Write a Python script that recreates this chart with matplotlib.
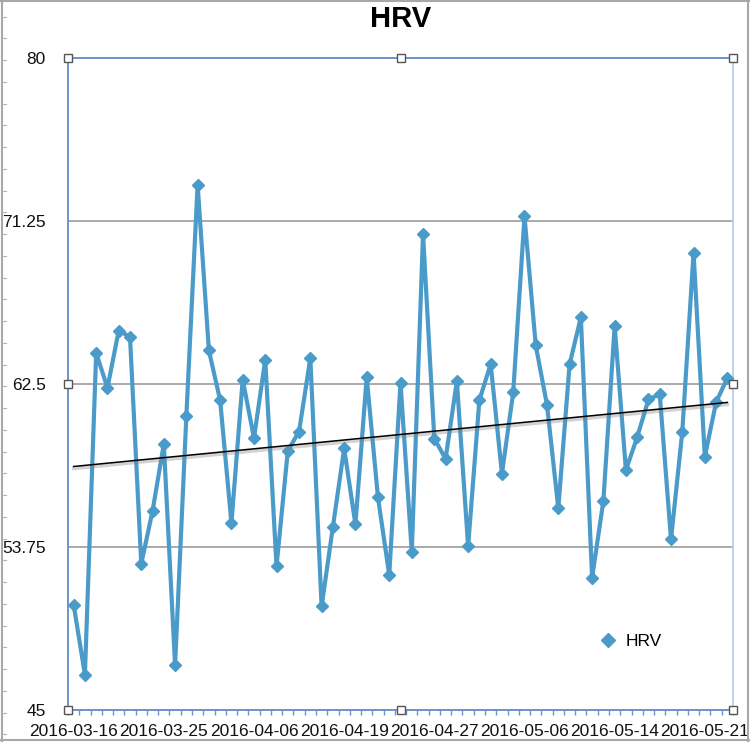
import numpy as np
import matplotlib
matplotlib.use("Agg")
import matplotlib.pyplot as plt
from matplotlib.lines import Line2D
import matplotlib.patheffects as pe

plt.rcParams["font.family"] = ["Liberation Sans", "DejaVu Sans"]

# ---------------------------------------------------------------------------
# Data
# ---------------------------------------------------------------------------
HRV = [
    50.65, 46.90, 64.17, 62.29, 65.37, 65.03, 52.85, 55.68, 59.27, 47.40,
    60.77, 73.20, 64.30, 61.62, 55.03, 62.74, 59.59, 63.80, 52.72, 58.91,
    59.95, 63.89, 50.56, 54.82, 59.04, 54.97, 62.86, 56.42, 52.25, 62.57,
    53.49, 70.54, 59.57, 58.48, 62.65, 53.79, 61.64, 63.57, 57.69, 62.05,
    71.51, 64.57, 61.37, 55.83, 63.55, 66.08, 52.10, 56.23, 65.62, 57.88,
    59.65, 61.67, 61.96, 54.16, 59.93, 69.54, 58.59, 61.52, 62.82,
]
DATE_LABELS = [
    "2016-03-16", "2016-03-25", "2016-04-06", "2016-04-19",
    "2016-04-27", "2016-05-06", "2016-05-14", "2016-05-21",
]
Y_TICKS = [45, 53.75, 62.5, 71.25, 80]
Y_TICK_LABELS = ["45", "53.75", "62.5", "71.25", "80"]

LINE_COLOR = "#4a9bc9"
AXIS_BLUE = "#7093cc"
GRID_GREY = "#9c9c9c"

x = np.arange(len(HRV))
label_step = 8

fig = plt.figure(figsize=(7.5, 7.42), dpi=100)
fig.set_facecolor("white")
ax = fig.add_axes([68 / 750, 1 - 710 / 742, 665 / 750, 652 / 742])

ax.set_xlim(-0.5, len(HRV) - 0.5)
ax.set_ylim(45, 80)

# gridlines
ax.set_yticks(Y_TICKS)
ax.set_yticklabels(Y_TICK_LABELS)
ax.yaxis.grid(True, color=GRID_GREY, lw=1.2)
ax.set_axisbelow(True)
ax.tick_params(axis="y", length=0, pad=16, labelsize=12.5, labelcolor="#111111")

# category axis
ax.set_xticks(x[::label_step])
ax.set_xticklabels(DATE_LABELS)
ax.set_xticks(np.arange(-0.5, len(HRV)), minor=True)
ax.tick_params(axis="x", which="major", length=0, pad=10, labelsize=12.5,
               labelcolor="#111111")
ax.tick_params(axis="x", which="minor", length=3.5, width=1, color=AXIS_BLUE,
               direction="out")

for side in ("left", "top", "bottom"):
    ax.spines[side].set_color(AXIS_BLUE)
    ax.spines[side].set_linewidth(1.4)
ax.spines["right"].set_color("#b3caf0")
ax.spines["right"].set_linewidth(1.2)

# series
ax.plot(x, HRV, color=LINE_COLOR, lw=3, marker="D", markersize=6,
        markerfacecolor=LINE_COLOR, markeredgecolor=LINE_COLOR, zorder=4)

# linear trendline
slope, intercept = np.polyfit(x, HRV, 1)
ax.plot([x[0], x[-1]], [intercept, intercept + slope * x[-1]], color="black",
        lw=1.1, zorder=5,
        path_effects=[pe.SimpleLineShadow(offset=(0, -1.5), shadow_color="gray",
                                          alpha=0.35, linewidth=2.5),
                      pe.Normal()])

# legend
proxy = Line2D([], [], color=LINE_COLOR, marker="D", markersize=7,
               linestyle="none")
ax.legend(handles=[proxy], labels=["HRV"], frameon=False, fontsize=12.5,
          loc="center left", bbox_to_anchor=((599 - 68) / 665, (710 - 641) / 652),
          borderpad=0, borderaxespad=0, handlelength=1, handletextpad=0.55)

# selection handles around the plot area
hx = [0, 0.5, 1, 0, 1, 0, 0.5, 1]
hy = [1, 1, 1, 0.5, 0.5, 0, 0, 0]
ax.plot(hx, hy, "s", transform=ax.transAxes, markersize=6,
        markerfacecolor="white", markeredgecolor="#555555", markeredgewidth=1,
        clip_on=False, zorder=10, linestyle="none")

# title
fig.text(401 / 750, 1 - 19 / 742, "HRV", ha="center", va="center",
         fontsize=21, fontweight="bold", color="black")

# window frame around the screenshot
fx = lambda px_: px_ / 750
fy = lambda py_: 1 - py_ / 742
frame = dict(color="#a8a8a8", lw=1.5, transform=fig.transFigure)
fig.add_artist(Line2D([fx(2), fx(2)], [fy(0), fy(741)], **frame))
fig.add_artist(Line2D([fx(0), fx(750)], [fy(0.8), fy(0.8)], **frame))
fig.add_artist(Line2D([fx(748), fx(748)], [fy(0), fy(741)], **frame))
fig.add_artist(Line2D([fx(0), fx(750)], [fy(740), fy(740)], **frame))
for ty in np.arange(16.7, 740, 21.75):
    fig.add_artist(Line2D([fx(2), fx(6)], [fy(ty), fy(ty)], color="#b5b5b5",
                          lw=0.8, transform=fig.transFigure))

fig.savefig("out.png", dpi=100, facecolor="white")
